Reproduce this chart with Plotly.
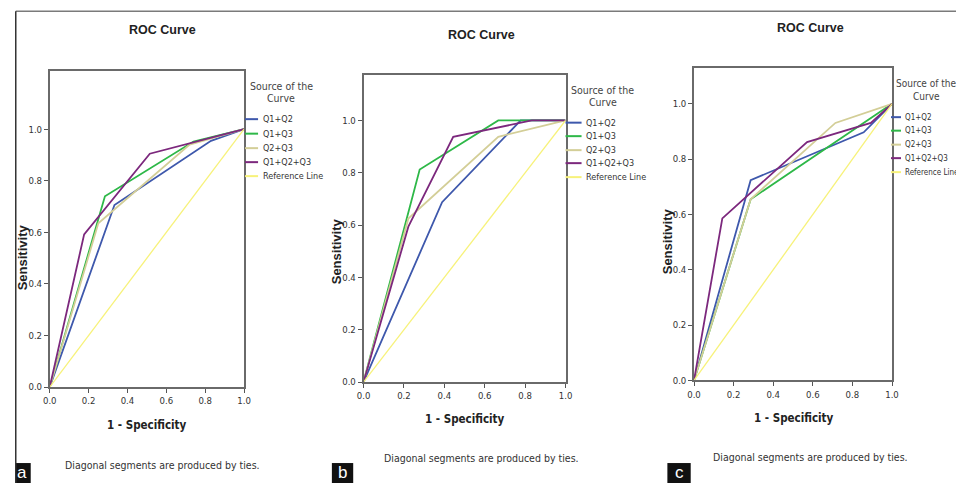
import plotly.graph_objects as go

W, H = 964, 483
# measured placement of the figure inside the photographed page
X0, SX = 15.3, 0.984
Y0, SY = 6.8, 0.99

# ---------------- data ----------------
series_names = ["Q1+Q2", "Q1+Q3", "Q2+Q3", "Q1+Q2+Q3", "Reference Line"]
series_colors = ["#3E58AC", "#2EB848", "#D3CE97", "#7C287D", "#F7F27A"]
tick_vals = [0.0, 0.2, 0.4, 0.6, 0.8, 1.0]
panel_letters = ["a", "b", "c"]

# Panel a (1 - specificity, sensitivity)
a_q1q2_x = [0, 0.333, 0.83, 1]
a_q1q2_y = [0, 0.706, 0.955, 1]
a_q1q3_x = [0, 0.284, 0.74, 1]
a_q1q3_y = [0, 0.740, 0.952, 1]
a_q2q3_x = [0, 0.25, 0.72, 1]
a_q2q3_y = [0, 0.635, 0.94, 1]
a_q123_x = [0, 0.177, 0.515, 1]
a_q123_y = [0, 0.592, 0.905, 1]

# Panel b
b_q1q2_x = [0, 0.389, 0.778, 1]
b_q1q2_y = [0, 0.6875, 1.0, 1]
b_q1q3_x = [0, 0.278, 0.667, 1]
b_q1q3_y = [0, 0.8125, 1.0, 1]
b_q2q3_x = [0, 0.222, 0.667, 1]
b_q2q3_y = [0, 0.625, 0.9375, 1]
b_q123_x = [0, 0.222, 0.444, 0.833, 1]
b_q123_y = [0, 0.594, 0.9375, 1.0, 1]

# Panel c
c_q1q2_x = [0, 0.286, 0.857, 1]
c_q1q2_y = [0, 0.724, 0.897, 1]
c_q1q3_x = [0, 0.286, 1]
c_q1q3_y = [0, 0.655, 1]
c_q2q3_x = [0, 0.286, 0.714, 1]
c_q2q3_y = [0, 0.655, 0.931, 1]
c_q123_x = [0, 0.143, 0.571, 0.893, 1]
c_q123_y = [0, 0.586, 0.862, 0.931, 1]

ref_x = [0, 1]
ref_y = [0, 1]

panel_series = [
    [(a_q1q2_x, a_q1q2_y), (a_q1q3_x, a_q1q3_y), (a_q2q3_x, a_q2q3_y), (a_q123_x, a_q123_y), (ref_x, ref_y)],
    [(b_q1q2_x, b_q1q2_y), (b_q1q3_x, b_q1q3_y), (b_q2q3_x, b_q2q3_y), (b_q123_x, b_q123_y), (ref_x, ref_y)],
    [(c_q1q2_x, c_q1q2_y), (c_q1q3_x, c_q1q3_y), (c_q2q3_x, c_q2q3_y), (c_q123_x, c_q123_y), (ref_x, ref_y)],
]

# ---------------- layout geometry (target picture pixels) ----------------
geo = [
    dict(box=(50, 244, 70, 386), ymax=1.225, title=(163, 29), xt=(147, 424), yt=(22.5, 256),
         foot=(163, 464), lt=(281, 85, 97), lts=10.5, lx=(245, 258, 261), lfs=9,
         ly=[118, 132.5, 147, 161, 175], lab=(8, 31)),
    dict(box=(363.3, 565, 74, 381), ymax=1.173, title=(481, 34), xt=(465, 418), yt=(336, 250),
         foot=(481, 457), lt=(602, 89, 101), lts=10.5, lx=(565, 581, 583), lfs=9,
         ly=[121.5, 135, 149, 162, 176], lab=(331.7, 353)),
    dict(box=(693.3, 891, 67.3, 379.3), ymax=1.128, title=(810, 27), xt=(793, 417), yt=(666.5, 240),
         foot=(810, 456), lt=(925, 82, 95), lts=10, lx=(890, 900, 902), lfs=8,
         ly=[116, 129.5, 143.5, 157, 171], lab=(666.7, 690)),
]
LAB_Y0, LAB_Y1 = 462, 483

NARROW = "Liberation Sans Narrow, Arial Narrow, DejaVu Sans Condensed, sans-serif"
SANS = "Liberation Sans, Arial, sans-serif"


def px(x):
    return max(0.0, min(1.0, (x - X0) / SX / W))


def py(y):
    return max(0.0, min(1.0, 1 - (y - Y0) / SY / H))


fig = go.Figure()
annotations = []
shapes = []
layout_axes = {}

for i, (series, g) in enumerate(zip(panel_series, geo)):
    sfx = "" if i == 0 else str(i + 1)
    xa, ya = "x" + sfx, "y" + sfx
    for k, ((xs, ys), name, col) in enumerate(zip(series, series_names, series_colors)):
        fig.add_trace(go.Scatter(
            x=xs, y=ys, mode="lines", name=name, showlegend=False,
            line=dict(color=col, width=1.3 if k == 4 else 1.8),
            xaxis=xa, yaxis=ya, hoverinfo="skip"))

    x0, x1, y0, y1 = g["box"]
    axis_common = dict(
        showline=True, mirror=True, linecolor="#6a6a6a", linewidth=1.6,
        ticks="outside", ticklen=4, tickwidth=1, tickcolor="#555",
        tickvals=tick_vals, tickformat=".1f", showgrid=False, zeroline=False,
        tickfont=dict(family=NARROW, size=9.5, color="#333"), fixedrange=True,
    )
    layout_axes["xaxis" + sfx] = dict(axis_common, domain=[px(x0), px(x1)], range=[0, 1],
                                     anchor=ya)
    layout_axes["yaxis" + sfx] = dict(axis_common, domain=[py(y1), py(y0)],
                                     range=[0, g["ymax"]], anchor=xa)

    # titles
    annotations.append(dict(x=px(g["title"][0]), y=py(g["title"][1]), text="<b>ROC Curve</b>",
                            font=dict(family=SANS, size=12.5, color="#222")))
    annotations.append(dict(x=px(g["xt"][0]), y=py(g["xt"][1]), text="<b>1 - Specificity</b>",
                            font=dict(family=NARROW, size=11.5, color="#222")))
    annotations.append(dict(x=px(g["yt"][0]), y=py(g["yt"][1]), text="<b>Sensitivity</b>",
                            textangle=-90, font=dict(family=SANS, size=13, color="#222")))
    annotations.append(dict(x=px(g["foot"][0]), y=py(g["foot"][1]),
                            text="Diagonal segments are produced by ties.",
                            font=dict(family=NARROW, size=10.5, color="#333")))

    # legend
    lcx, lty1, lty2 = g["lt"]
    annotations.append(dict(x=px(lcx), y=py(lty1), text="Source of the",
                            font=dict(family=NARROW, size=g["lts"], color="#444")))
    annotations.append(dict(x=px(lcx), y=py(lty2), text="Curve",
                            font=dict(family=NARROW, size=g["lts"], color="#444")))
    lx0, lx1, ltx = g["lx"]
    for name, col, yy in zip(series_names, series_colors, g["ly"]):
        shapes.append(dict(type="line", xref="paper", yref="paper",
                           x0=px(lx0), x1=px(lx1), y0=py(yy), y1=py(yy),
                           line=dict(color=col, width=2)))
        annotations.append(dict(x=px(ltx), y=py(yy), text=name, xanchor="left",
                                font=dict(family=NARROW, size=g["lfs"], color="#333")))

    # panel letter box
    bx0, bx1 = g["lab"]
    shapes.append(dict(type="rect", xref="paper", yref="paper", x0=px(bx0), x1=px(bx1),
                       y0=py(LAB_Y1), y1=py(LAB_Y0), fillcolor="#111", line=dict(width=0)))
    annotations.append(dict(x=px((bx0 + bx1) / 2 + (3 if i == 0 else 0)),
                            y=py((LAB_Y0 + LAB_Y1) / 2 - 1),
                            text=panel_letters[i],
                            font=dict(family=SANS, size=17, color="white")))

for a in annotations:
    a.setdefault("xref", "paper")
    a.setdefault("yref", "paper")
    a.setdefault("showarrow", False)
    a.setdefault("xanchor", "center")
    a.setdefault("yanchor", "middle")

# outer frame lines
shapes.append(dict(type="line", xref="paper", yref="paper", x0=0.0008, x1=1,
                   y0=py(10), y1=py(10), line=dict(color="#7a7a7a", width=1.5)))
shapes.append(dict(type="line", xref="paper", yref="paper", x0=0.0008, x1=0.0008,
                   y0=py(10), y1=0, line=dict(color="#333", width=1.5)))

fig.update_layout(
    width=W, height=H, margin=dict(l=0, r=0, t=0, b=0),
    paper_bgcolor="white", plot_bgcolor="white",
    showlegend=False, annotations=annotations, shapes=shapes,
    **layout_axes,
)

fig.write_html("out.html", config={"displayModeBar": False})
